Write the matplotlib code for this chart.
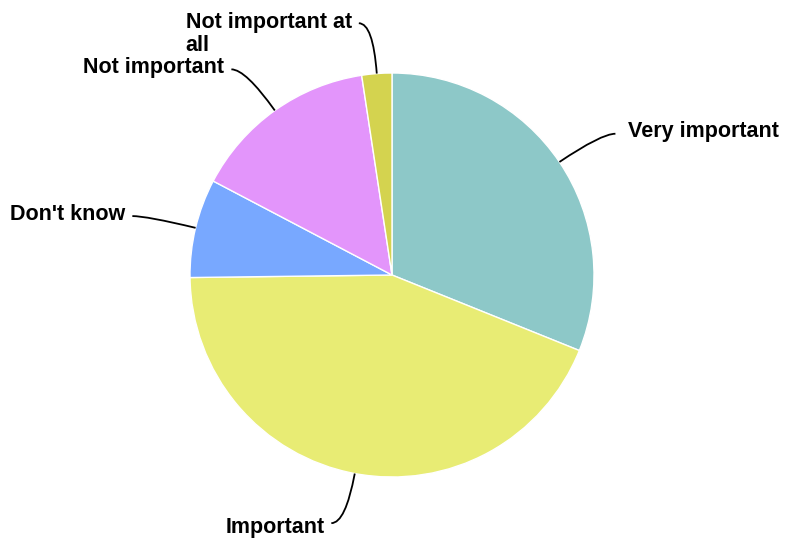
import numpy as np
import matplotlib.pyplot as plt
from matplotlib.path import Path
from matplotlib.patches import PathPatch

plt.rcParams['font.family'] = ['Liberation Sans', 'DejaVu Sans']

# Slice data (clockwise from 12 o'clock)
labels = ["Very important", "Important", "Don't know", "Not important", "Not important at\nall"]
shares = [31.1, 43.7, 7.9, 14.9, 2.4]
colors = ["#8dc8c8", "#e8ec74", "#78a8ff", "#e395fb", "#d4d34f"]

fig = plt.figure(figsize=(7.85, 5.41), dpi=100)
ax = fig.add_axes([0, 0, 1, 1])

wedges, _ = ax.pie(shares, colors=colors, startangle=90, counterclock=False,
                   radius=1.0, wedgeprops=dict(edgecolor='white', linewidth=1))

# map pixels -> data: centre at (392, 275) px from top-left, radius 202 px
r_px = 202.0
ax.set_xlim(-392 / r_px, (785 - 392) / r_px)
ax.set_ylim(-(541 - 275) / r_px, 275 / r_px)
ax.set_aspect('equal')
ax.axis('off')

for w, lab in zip(wedges, labels):
    ang = np.deg2rad((w.theta1 + w.theta2) / 2)
    c, s = np.cos(ang), np.sin(ang)
    sign = 1 if c >= 0 else -1
    p0 = (c, s)
    e = (1.25 * c, 1.25 * s)
    p2 = (e[0] + sign * 0.07, e[1])
    path = Path([p0, e, p2], [Path.MOVETO, Path.CURVE3, Path.CURVE3])
    ax.add_patch(PathPatch(path, facecolor='none', edgecolor='black', lw=1.3))
    if sign > 0:
        tx, ha = p2[0] + 0.06, 'left'
    else:
        tx, ha = p2[0] - 0.035, 'right'
    dy = 0.01 if s > 0 else -0.02
    if '\n' in lab:
        ax.text(tx, p2[1] + 0.055, lab, ha=ha, va='top', multialignment='left',
                fontsize=15.5, fontweight='bold', linespacing=1.1)
    else:
        ax.text(tx, p2[1] + dy, lab, ha=ha, va='center',
                fontsize=15.5, fontweight='bold')

fig.savefig('out.png', dpi=100, facecolor='white')
